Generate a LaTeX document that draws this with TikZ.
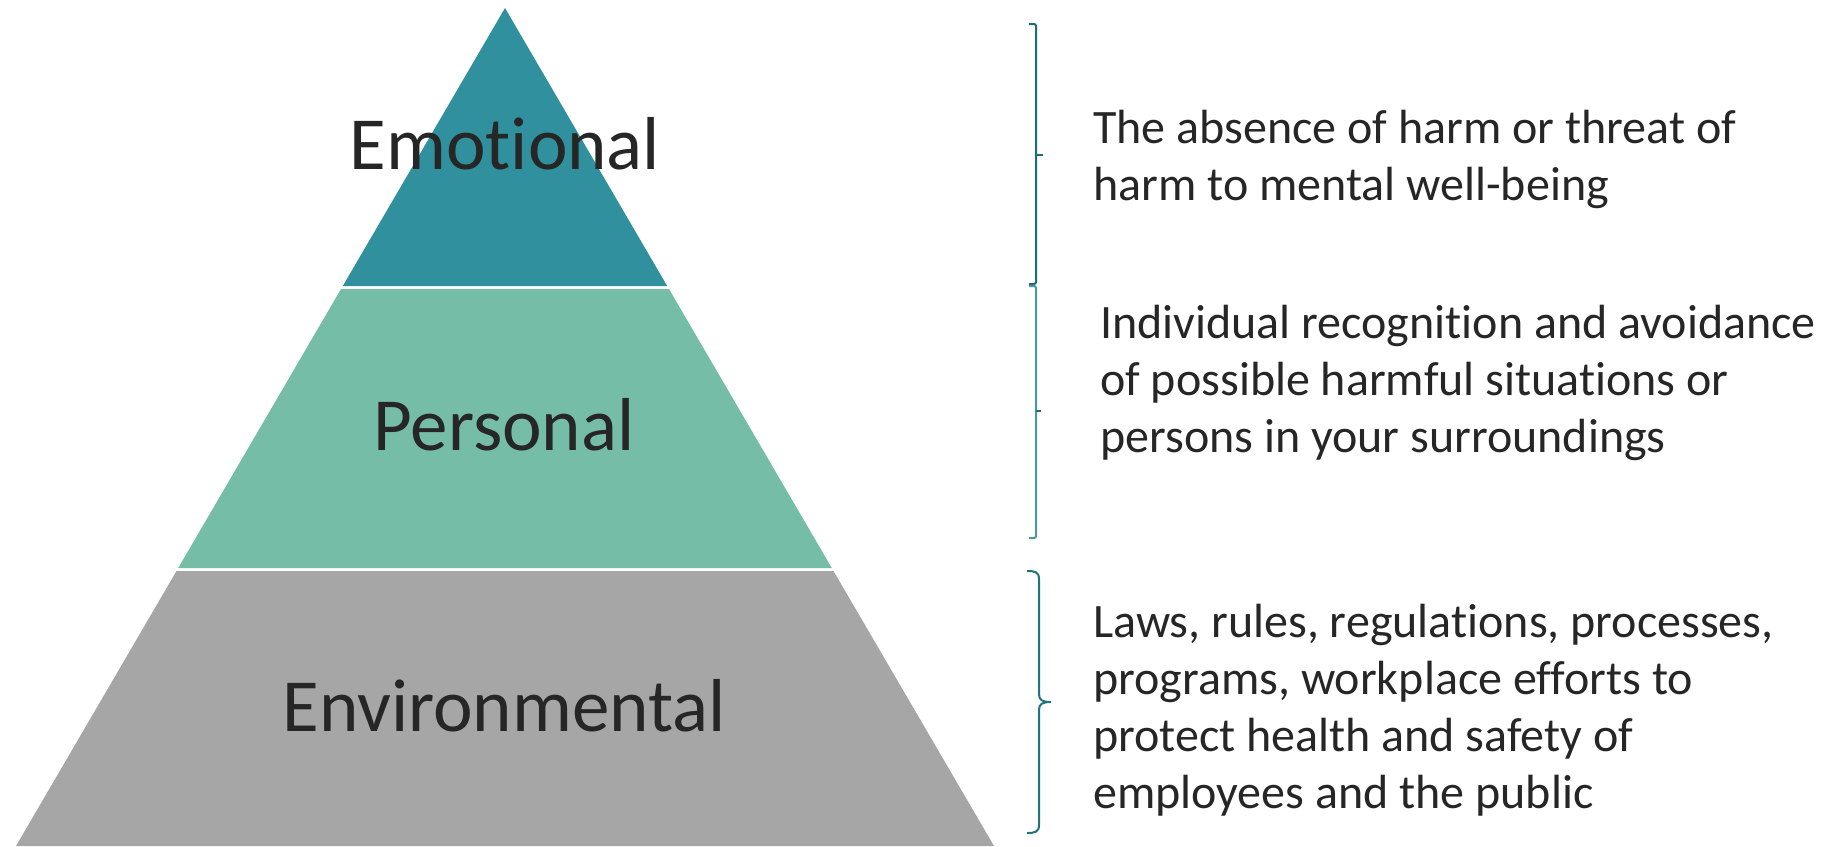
\documentclass[tikz,border=0pt]{standalone}
\usepackage{fontspec}
\setmainfont{Carlito}[Ligatures={NoCommon,NoRequired,NoContextual}]
\definecolor{emo}{HTML}{31909E}
\definecolor{pers}{HTML}{76BDA8}
\definecolor{envc}{HTML}{A6A6A6}
\definecolor{txt}{HTML}{262626}
\definecolor{bracedark}{HTML}{1B6E77}
\definecolor{bracelight}{HTML}{4B979F}
\definecolor{bracemid}{HTML}{23737C}
\begin{document}
\begin{tikzpicture}[x=1pt,y=-1pt,
  biglabel/.style={anchor=base,inner sep=0pt,text=txt,font=\fontsize{75}{90}\selectfont},
  desc/.style={anchor=base west,inner sep=0pt,text=txt,font=\fontsize{48}{57}\selectfont},
  bracestyle/.style={line width=2pt,line cap=butt}]
\useasboundingbox (0,0) rectangle (1823,846);
% pyramid bands
\fill[emo] (505,8) -- (667.2,286) -- (342.8,286) -- cycle;
\fill[pers] (341,289) -- (669,289) -- (831.8,568) -- (178.2,568) -- cycle;
\fill[envc] (176.5,571) -- (833.5,571) -- (994,846) -- (16,846) -- cycle;
% pyramid labels
\node[biglabel] (emotional) at (505,169) {Emotional};
\node[biglabel] (personal) at (504,450) {Personal};
\node[biglabel] (environmental) at (504,731) {Environmental};
% braces
\draw[bracestyle,bracedark,rounded corners=2pt] (1029,24) -| (1036,284) -- (1029,284);
\draw[bracestyle,bracedark] (1036,155) -- (1043,155);
\draw[bracestyle,bracelight,rounded corners=2pt] (1029,286) -| (1036,538) -- (1029,538);
\draw[bracestyle,bracedark] (1036,411) -- (1041,411);
\draw[bracestyle,bracemid] (1027,571) .. controls (1035,571) and (1039,572) .. (1039,579)
  -- (1039,694) .. controls (1039,700) and (1042,702) .. (1051,702)
  .. controls (1042,702) and (1039,704) .. (1039,710)
  -- (1039,825) .. controls (1039,832) and (1035,833) .. (1027,833);
% descriptions
\node[desc] (d1a) at (1093,143) {The absence of harm or threat of};
\node[desc] (d1b) at (1093,200) {harm to mental well-being};
\node[desc] (d2a) at (1100,338) {Individual recognition and avoidance};
\node[desc] (d2b) at (1100,395) {of possible harmful situations or};
\node[desc] (d2c) at (1100,452) {persons in your surroundings};
\node[desc] (d3a) at (1093,637) {Laws, rules, regulations, processes,};
\node[desc] (d3b) at (1093,694) {programs, workplace efforts to};
\node[desc] (d3c) at (1093,751) {protect health and safety of};
\node[desc] (d3d) at (1093,808) {employees and the public};
\end{tikzpicture}
\end{document}
